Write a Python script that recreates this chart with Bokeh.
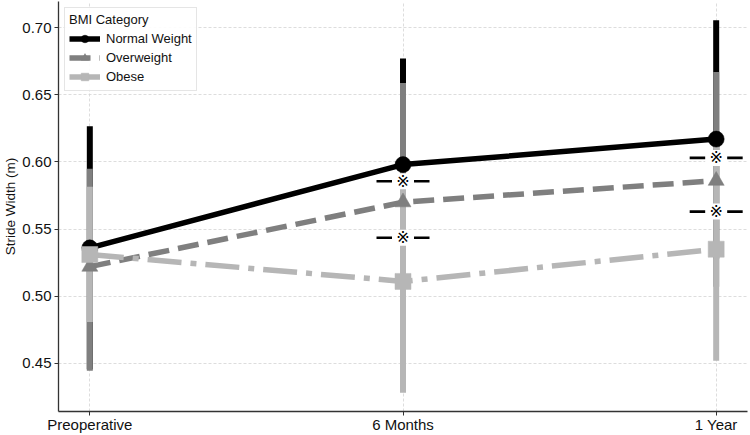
from bokeh.plotting import figure
from bokeh.models import (ColumnDataSource, Legend, LegendItem, FixedTicker,
                          PrintfTickFormatter, Range1d)
from bokeh.core.properties import value
from bokeh.embed import file_html
from bokeh.resources import INLINE

# ---------------- data ----------------
phases = ["Preoperative", "6 Months", "1 Year"]

normal_mean = [0.536, 0.598, 0.617]
normal_lower = [0.4455, 0.519, 0.528]
normal_upper = [0.6265, 0.677, 0.7056]

over_mean = [0.522, 0.570, 0.586]
over_lower = [0.4445, 0.483, 0.507]
over_upper = [0.595, 0.6587, 0.667]

obese_mean = [0.531, 0.511, 0.535]
obese_lower = [0.4807, 0.428, 0.452]
obese_upper = [0.5815, 0.590, 0.618]

sig_phase = [1, 1, 2, 2]
sig_value = [0.5856, 0.5435, 0.603, 0.563]
sig_text = ["※", "※", "※", "※"]

y_ticks = [0.45, 0.50, 0.55, 0.60, 0.65, 0.70]
legend_title = "BMI Category"
y_label = "Stride Width (m)"

# ---------------- figure ----------------
FONT = "Liberation Sans"
xs = list(range(len(phases)))
all_vals = normal_lower + normal_upper + over_lower + over_upper + obese_lower + obese_upper
lo, hi = min(all_vals), max(all_vals)
pad = (hi - lo) * 0.05

p = figure(width=750, height=435, output_backend="svg", toolbar_location=None,
           x_range=Range1d(-0.1, len(phases) - 1 + 0.1),
           y_range=Range1d(lo - pad, hi + pad),
           min_border_left=50, min_border_right=3, min_border_top=1,
           min_border_bottom=20)
p.outline_line_color = None
p.background_fill_color = "white"
p.border_fill_color = "white"

series = [
    ("Normal Weight", normal_mean, normal_lower, normal_upper, "#000000", "solid", "circle"),
    ("Overweight", over_mean, over_lower, over_upper, "#7f7f7f", "21 9", "triangle"),
    ("Obese", obese_mean, obese_lower, obese_upper, "#b6b6b6", "34 9 6 9", "square"),
]

sources = []
for name, m, l, u, c, d, mk in series:
    src = ColumnDataSource(dict(x=xs, m=m, l=l, u=u))
    sources.append(src)

# error bars
for (name, m, l, u, c, d, mk), src in zip(series, sources):
    p.segment(x0="x", y0="l", x1="x", y1="u", source=src, line_color=c,
              line_width=6, line_cap="butt")

lines = []
for (name, m, l, u, c, d, mk), src in zip(series, sources):
    r = p.line(x="x", y="m", source=src, line_color=c, line_width=5.5,
               line_dash=d, line_cap="butt", line_join="round")
    lines.append(r)

marks = []
for (name, m, l, u, c, d, mk), src in zip(series, sources):
    r = p.scatter(x="x", y="m", source=src, marker=mk, size=16,
                  fill_color=c, line_color=c, line_width=0.5)
    marks.append(r)

# significance marks
sig_src = ColumnDataSource(dict(x=sig_phase, y=sig_value, t=sig_text))
p.scatter(x="x", y="y", source=sig_src, marker="dash", size=53,
          line_color="black", line_width=2.6)
p.rect(x="x", y="y", width=22, height=16, width_units="screen",
       height_units="screen", source=sig_src, fill_color="white",
       line_color=None)
p.text(x="x", y="y", text="t", source=sig_src, text_align="center",
       text_baseline="middle", text_font=value("DejaVu Sans"),
       text_font_size="16px", text_color="black")

# ---------------- axes ----------------
p.xaxis.ticker = FixedTicker(ticks=xs)
p.xaxis.major_label_overrides = {i: s for i, s in enumerate(phases)}
p.yaxis.ticker = FixedTicker(ticks=y_ticks)
p.yaxis.formatter = PrintfTickFormatter(format="%.2f")
p.yaxis.axis_label = y_label

for ax in (p.xaxis, p.yaxis):
    ax.axis_line_color = "#333333"
    ax.axis_line_width = 1.3
    ax.major_tick_line_color = "#333333"
    ax.major_tick_line_width = 1.0
    ax.major_tick_in = 0
    ax.major_tick_out = 4
    ax.minor_tick_line_color = None
    ax.major_label_text_font = FONT
    ax.major_label_text_font_size = "15px"
    ax.major_label_text_color = "#111111"
    ax.axis_label_text_font = FONT
    ax.axis_label_text_font_size = "13.5px"
    ax.axis_label_text_font_style = "normal"
    ax.axis_label_text_color = "#111111"
p.xaxis.major_label_standoff = 0
p.yaxis.major_label_standoff = 3
p.yaxis.axis_label_standoff = 1

p.xgrid.ticker = FixedTicker(ticks=xs)
p.ygrid.ticker = FixedTicker(ticks=y_ticks)
for g in (p.xgrid, p.ygrid):
    g.grid_line_color = "#d4d4d4"
    g.grid_line_width = 0.8
    g.grid_line_dash = "3 2"

# ---------------- legend ----------------
items = [LegendItem(label=s[0], renderers=[ln, mk]) for s, ln, mk in zip(series, lines, marks)]
legend = Legend(items=items, location="top_left", title=legend_title)
legend.title_text_font = FONT
legend.title_text_font_size = "13px"
legend.title_text_font_style = "normal"
legend.title_text_color = "#111111"
legend.title_standoff = 2
legend.label_text_font = FONT
legend.label_text_font_size = "13px"
legend.label_text_color = "#111111"
legend.label_height = 19
legend.glyph_height = 19
legend.glyph_width = 31
legend.label_standoff = 6
legend.spacing = 0
legend.padding = 4
legend.margin = 6
legend.border_line_color = "#cccccc"
legend.border_line_width = 1
legend.background_fill_color = "white"
legend.background_fill_alpha = 0.9
p.add_layout(legend)

open("out.html", "w").write(file_html(p, INLINE))
